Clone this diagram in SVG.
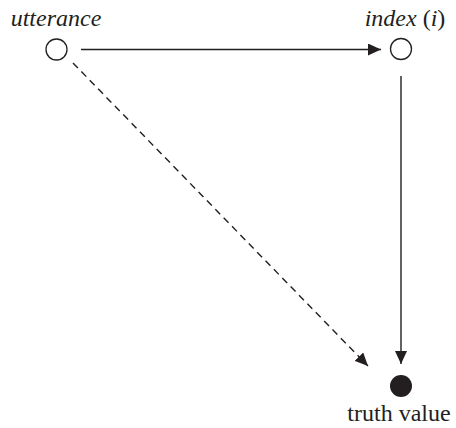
<svg xmlns="http://www.w3.org/2000/svg" width="456" height="428" viewBox="0 0 456 428">
<style>
.t{font-family:'Liberation Serif','Times New Roman','DejaVu Serif',serif;font-size:24px;fill:#231f20}
.it{font-style:italic}
.node{fill:#fff;stroke:#231f20;stroke-width:1.3}
.conn{stroke:#231f20;stroke-width:1.4;fill:none}
</style>
<defs>
<marker id="ah" viewBox="0 0 13 12" refX="13" refY="6" markerWidth="13" markerHeight="12" markerUnits="userSpaceOnUse" orient="auto">
<path d="M0,0 L13,6 L0,12 Z" fill="#231f20"/>
</marker>
</defs>
<rect width="456" height="428" fill="#fff"/>
<g id="connectors">
<line class="conn" x1="81" y1="49.5" x2="381" y2="49.5" marker-end="url(#ah)"/>
<line class="conn" x1="401" y1="76" x2="401" y2="364" marker-end="url(#ah)"/>
<line class="conn" x1="73" y1="63" x2="368" y2="366" stroke-dasharray="7,5" marker-end="url(#ah)"/>
</g>
<g id="utterance">
<circle class="node" cx="56.5" cy="49.5" r="10.5"/>
<text class="t it" x="56" y="26" text-anchor="middle">utterance</text>
</g>
<g id="index">
<circle class="node" cx="401" cy="49" r="10.5"/>
<text class="t" x="405" y="26" text-anchor="middle"><tspan class="it">index</tspan> (<tspan class="it">i</tspan>)</text>
</g>
<g id="truth">
<circle cx="401" cy="386" r="11" fill="#231f20"/>
<text class="t" x="399" y="421" text-anchor="middle">truth value</text>
</g>
</svg>
